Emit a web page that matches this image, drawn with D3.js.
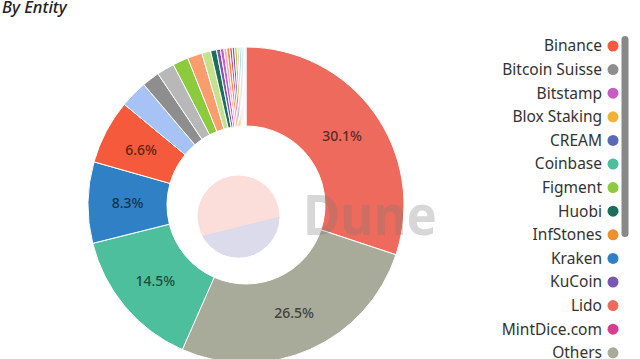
<!DOCTYPE html>
<html>
<head>
<style>
body {margin:0; background:#fff;}
svg {display:block; font-family:"Noto Sans", "Open Sans", sans-serif;}
</style>
<script src="https://d3js.org/d3.v7.min.js"></script>
</head>
<body>
<svg id="vis" width="640" height="359"></svg>
<script>
// slices in drawing order (clockwise from 12 o'clock)
var entities = ["Lido","Others","Coinbase","Kraken","Binance","Rocket Pool","Bitcoin Suisse","Stakefish",
  "Figment","Staked.us","Stakewise","Huobi","KuCoin","Bitstamp","P2P.org","InfStones","MintDice.com",
  "CREAM","Blox Staking","Poloniex","Whale","Tranchess","Wex","Unknown"];
var shares = [30.1,26.5,14.5,8.3,6.6,2.8,1.8,1.8,1.6,1.5,0.9,0.6,0.4,0.35,0.3,0.3,0.25,0.25,0.25,0.2,0.2,0.2,0.15,0.15];
var colors = ["#ee6a5c","#a8aa9a","#4dbf9d","#2f80c4","#f45a3b","#a7c3f5","#8e8e8e","#b8b8b8",
  "#8ccb3e","#f99d6e","#c6e18c","#1b6e5c","#7a57b0","#c75cc2","#f6a6c9","#f08f2e","#d83f90",
  "#5b67b9","#f2b335","#b3dfc3","#9fd4e0","#c9dcef","#dedede","#eeeeee"];

var svg = d3.select("#vis");
var cx = 246, cy = 205, rOut = 158, rIn = 79;

svg.append("text").attr("x",2).attr("y",13)
  .style("font-style","italic").style("font-size","16.5px").style("font-weight","500")
  .attr("fill","#222").text("By Entity");

var data = entities.map(function(n,i){ return {name:n, value:shares[i], color:colors[i]}; });
var total = d3.sum(shares);

var pie = d3.pie().sort(null).value(function(d){ return d.value; });
var arc = d3.arc().innerRadius(rIn).outerRadius(rOut);
var arcs = pie(data);

var g = svg.append("g").attr("transform","translate("+cx+","+cy+")");
g.selectAll("path").data(arcs).enter().append("path")
  .attr("d", arc)
  .attr("fill", function(d){ return d.data.color; })
  .attr("stroke","#fff").attr("stroke-width",1);

// Dune watermark
var wm = svg.append("g");
wm.append("clipPath").attr("id","logoclip").append("circle").attr("cx",238.5).attr("cy",216.5).attr("r",41);
wm.append("circle").attr("cx",238.5).attr("cy",216.5).attr("r",41).attr("fill","#fbded9");
wm.append("polygon").attr("clip-path","url(#logoclip)")
  .attr("points","190,239 290,214 290,270 190,270").attr("fill","#dcdbeb");
wm.append("text").attr("x",303).attr("y",235).attr("textLength",134).attr("lengthAdjust","spacingAndGlyphs")
  .style("font-size","56px").style("font-weight","700")
  .attr("fill","#7a7a7a").attr("fill-opacity",0.3).text("Dune");

// percentage labels
var mid = d3.arc().innerRadius((rIn+rOut)/2).outerRadius((rIn+rOut)/2);
g.selectAll("text.lbl").data(arcs.filter(function(d){ return d.data.value/total > 0.05; }))
  .enter().append("text").attr("class","lbl")
  .attr("transform", function(d){ return "translate("+mid.centroid(d)+")"; })
  .attr("text-anchor","middle").attr("dy","0.35em")
  .style("font-size","14px").style("font-weight","500")
  .attr("fill", function(d){ return d3.color(d.data.color).darker(2.6); })
  .text(function(d){ return (d.data.value/total*100).toFixed(1)+"%"; });

// legend (alphabetical)
var legendData = data.slice().sort(function(a,b){ return a.name < b.name ? -1 : a.name > b.name ? 1 : 0; });
var ly = d3.scaleLinear().domain([0,1]).range([46,69.6]);
var lg = svg.append("g");
var item = lg.selectAll("g").data(legendData).enter().append("g")
  .attr("transform", function(d,i){ return "translate(0,"+ly(i)+")"; });
item.append("text").attr("x",602).attr("dy","0.35em").attr("text-anchor","end")
  .style("font-size","15.5px").attr("fill","#333").text(function(d){ return d.name; });
item.append("circle").attr("cx",613).attr("r",5.5).attr("fill", function(d){ return d.color; });

// scrollbar
svg.append("rect").attr("x",621.5).attr("y",36).attr("width",7).attr("height",201).attr("rx",3.5)
  .attr("fill","#888");
</script>
</body>
</html>
